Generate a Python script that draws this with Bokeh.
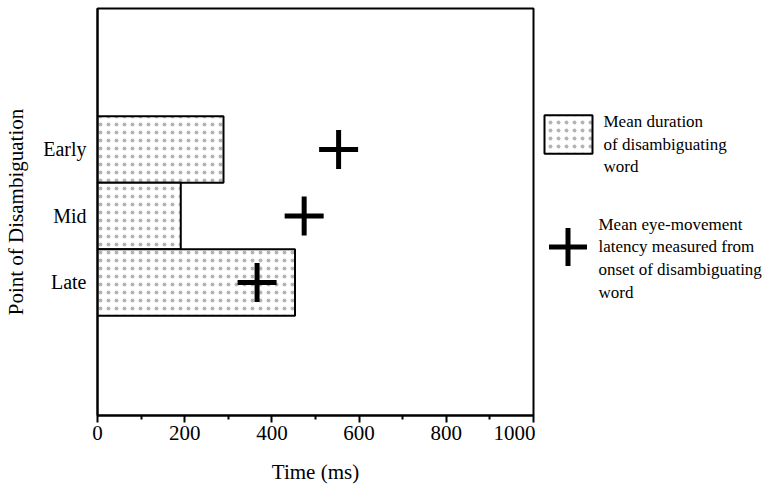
from bokeh.plotting import figure
from bokeh.layouts import row
from bokeh.models import Range1d, FixedTicker, ColumnDataSource, Legend, LegendItem, Label
from bokeh.embed import file_html
from bokeh.resources import INLINE

# ---- data ----
conditions = ["Early", "Mid", "Late"]
word_duration_ms = [289, 191, 453]      # mean duration of disambiguating word
eye_latency_ms = [553, 474, 366]        # mean eye-movement latency
x_ticks = [0, 200, 400, 600, 800, 1000]
legend_labels = [
    "Mean duration\nof disambiguating\nword",
    "Mean eye-movement\nlatency measured from\nonset of disambiguating\nword",
]

FONT = "Liberation Serif"

ypos = [len(conditions) + 1 - i for i in range(len(conditions))]
src = ColumnDataSource(dict(cond=conditions, y=ypos, dur=word_duration_ms, lat=eye_latency_ms))

bar_style = dict(fill_color="white", line_color="black", line_width=2,
                 hatch_pattern="dot", hatch_color="#b4b4b4", hatch_scale=8, hatch_weight=1)
cross_style = dict(marker="cross", size=39, line_width=5, line_color="black")

p = figure(width=535, height=490, x_range=Range1d(0, 1000), y_range=Range1d(0, 6.12),
           output_backend="svg", toolbar_location=None,
           min_border_left=97, min_border_right=2, min_border_top=8, min_border_bottom=75)
p.background_fill_color = "white"
p.border_fill_color = "white"
p.grid.visible = False
p.outline_line_color = "black"
p.outline_line_width = 2

p.hbar(y="y", left=0, right="dur", height=1, source=src, **bar_style)
p.scatter(x="lat", y="y", source=src, **cross_style)

# x axis
minor = [(a + b) / 2 for a, b in zip(x_ticks[:-1], x_ticks[1:])]
p.xaxis.ticker = FixedTicker(ticks=x_ticks, minor_ticks=minor)
p.xaxis.axis_label = "Time (ms)"
p.xaxis.axis_line_width = 2
p.xaxis.major_tick_in = 0
p.xaxis.major_tick_out = 7
p.xaxis.minor_tick_in = 0
p.xaxis.minor_tick_out = 4
p.xaxis.major_tick_line_width = 2
p.xaxis.minor_tick_line_width = 2
p.xaxis.major_label_standoff = 3
p.xaxis.axis_label_standoff = 17

# y axis
p.yaxis.ticker = FixedTicker(ticks=ypos)
p.yaxis.major_label_overrides = {y: c for y, c in zip(ypos, conditions)}
p.yaxis.axis_label = "Point of Disambiguation"
p.yaxis.axis_line_width = 2
p.yaxis.major_tick_line_color = None
p.yaxis.major_tick_in = 0
p.yaxis.major_tick_out = 0
p.yaxis.minor_tick_line_color = None
p.yaxis.major_label_standoff = 11
p.yaxis.axis_label_standoff = 12

for ax in (p.xaxis, p.yaxis):
    ax.axis_line_color = "black"
    ax.major_label_text_font = FONT
    ax.major_label_text_color = "black"
    ax.axis_label_text_font = FONT
    ax.axis_label_text_font_style = "normal"
    ax.axis_label_text_color = "black"
    ax.axis_label_text_font_size = "21px"
p.xaxis.major_label_text_font_size = "21px"
p.yaxis.major_label_text_font_size = "20px"

# ---- legend panel (separate figure to the right; its coordinates are page pixels) ----
q = figure(width=244, height=490, x_range=Range1d(535, 779), y_range=Range1d(490, 0),
           output_backend="svg", toolbar_location=None,
           min_border_left=0, min_border_right=0, min_border_top=0, min_border_bottom=0)
q.axis.visible = False
q.grid.visible = False
q.outline_line_color = None
q.background_fill_color = "white"
q.border_fill_color = "white"
# legend-only renderers (hidden; the legend still draws their glyphs)
lbars = q.hbar(y="y", left=0, right="dur", height=1, source=src, visible=False, **bar_style)
lcross = q.scatter(x="lat", y="y", source=src, visible=False, **cross_style)

common = dict(padding=0, margin=0, spacing=0, border_line_color=None,
              background_fill_alpha=0, label_text_font_size="1px",
              label_standoff=0, click_policy="none", inactive_fill_alpha=0)
q.add_layout(Legend(items=[LegendItem(label=" ", renderers=[lbars])],
                    location=(3, 257), glyph_width=60, glyph_height=48, **common))
q.add_layout(Legend(items=[LegendItem(label=" ", renderers=[lcross])],
                    location=(-15, 121), glyph_width=95, glyph_height=95, **common))

text_style = dict(text_font=FONT, text_font_size="17px", text_color="black",
                  text_baseline="middle", text_align="left", text_line_height=1.19)
q.add_layout(Label(x=603, y=163.5, text=legend_labels[0], **text_style))
q.add_layout(Label(x=598, y=300.5, text=legend_labels[1], **text_style))

open("out.html", "w").write(file_html(row(p, q), INLINE))
